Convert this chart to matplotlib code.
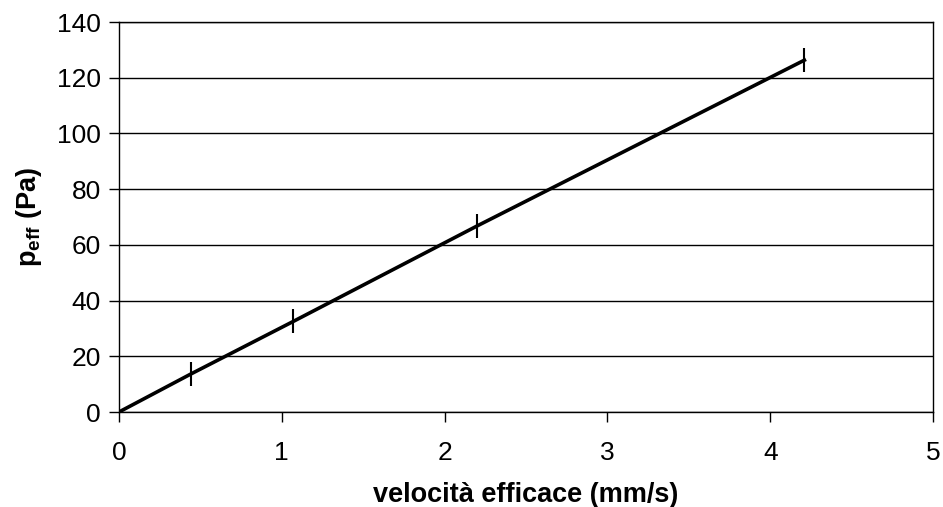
import matplotlib.pyplot as plt

plt.rcParams['font.family'] = ['Liberation Sans', 'DejaVu Sans']

# data
velocita = [0.0, 0.44, 1.07, 2.20, 4.21]
p_eff = [0.0, 13.6, 32.5, 66.8, 126.3]
errore = [0.0, 4.3, 4.3, 4.3, 4.3]

x_ticks = [0, 1, 2, 3, 4, 5]
y_ticks = [0, 20, 40, 60, 80, 100, 120, 140]

fig = plt.figure(figsize=(9.43, 5.07), dpi=100)
ax = fig.add_axes([119 / 943, 95 / 507, (933 - 119) / 943, (412 - 22) / 507])

ax.errorbar(velocita, p_eff, yerr=errore, color="black", linewidth=2.6,
            elinewidth=1.5, capsize=0, zorder=3)

ax.set_xlim(0, 5)
ax.set_ylim(0, 140)
ax.set_xticks(x_ticks)
ax.set_yticks(y_ticks)
ax.yaxis.grid(True, color="black", linewidth=1.0)
ax.set_axisbelow(True)
for s in ax.spines.values():
    s.set_linewidth(1.0)
ax.tick_params(axis="both", direction="out", length=7, width=1.0,
               labelsize=19, colors="black")
ax.tick_params(axis="x", pad=14)
ax.tick_params(axis="y", pad=6)

ax.set_xlabel("velocità efficace (mm/s)", fontsize=19.5, fontweight="bold", labelpad=12)
ax.set_ylabel(r"p$_{\mathregular{eff}}$ (Pa)", fontsize=19.5, fontweight="bold", labelpad=9)

fig.savefig("out.png", dpi=100)
